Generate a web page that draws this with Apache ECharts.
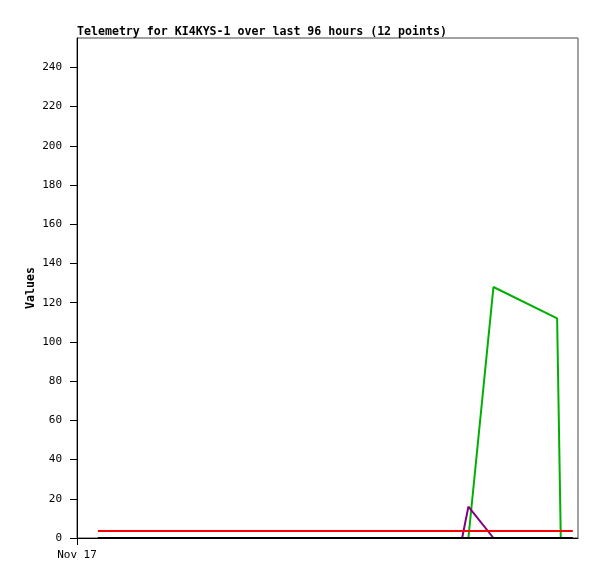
<!DOCTYPE html>
<html>
<head>
<meta charset="utf-8">
<script src="https://cdn.jsdelivr.net/npm/echarts@6/dist/echarts.min.js"></script>
<style>html,body{margin:0;padding:0;background:#fff;}#c{width:597px;height:579px;}</style>
</head>
<body>
<div id="c"></div>
<script>
const titleText = 'Telemetry for KI4KYS-1 over last 96 hours (12 points)';
const yName = 'Values';
const xTickLabel = 'Nov 17';
const yTicks = [0, 20, 40, 60, 80, 100, 120, 140, 160, 180, 200, 220, 240];
const hours = [4.0, 73.8, 75.0, 79.8, 92.0, 92.7, 95.0];
const greenVals  = [0, 0, 0, 128, 112, 0, 0];
const purpleVals = [0, 0, 16, 0, 0, 0, 0];
const redVals    = [3.6, 3.6, 3.6, 3.6, 3.6, 3.6, 3.6];
const blackVals  = [0, 0, 0, 0, 0, 0, 0];

const font = 'DejaVu Sans Mono';
function pairs(vals){ return hours.map((h,i)=>[h, vals[i]]); }
function line(name, vals, color){
  return {name, type:'line', data:pairs(vals), showSymbol:false, symbol:'none',
    lineStyle:{color, width:2}, itemStyle:{color}, animation:false};
}
const chart = echarts.init(document.getElementById('c'));
chart.setOption({
  animation:false,
  backgroundColor:'#fff',
  title:{text:titleText, left:77, top:26, padding:0,
    textStyle:{fontFamily:font, fontWeight:'bold', fontSize:11.6, color:'#000'}},
  grid:{left:77, top:38, right:19, bottom:41, show:true, borderColor:'#444', borderWidth:1, backgroundColor:'transparent'},
  xAxis:{type:'value', min:0, max:96,
    axisLine:{show:true, lineStyle:{color:'#000', width:1}},
    axisTick:{show:true, customValues:[0], length:7, lineStyle:{color:'#000'}},
    axisLabel:{customValues:[0], formatter:()=>xTickLabel, fontFamily:font, fontSize:11, color:'#000', margin:12},
    splitLine:{show:false}},
  yAxis:{type:'value', min:0, max:255,
    name:yName, nameLocation:'middle', nameGap:40, nameRotate:90, nameMoveOverlap:false,
    nameTextStyle:{fontFamily:font, fontWeight:'bold', fontSize:11.6, color:'#000'},
    axisLine:{show:true, lineStyle:{color:'#000', width:1}},
    axisTick:{show:true, customValues:yTicks, length:7, lineStyle:{color:'#000'}},
    axisLabel:{customValues:yTicks, fontFamily:font, fontSize:11, color:'#000', margin:15},
    splitLine:{show:false}},
  series:[
    line('green', greenVals, '#00b000'),
    line('purple', purpleVals, '#800080'),
    line('red', redVals, '#ff0000'),
    line('black', blackVals, '#000000')
  ]
});
</script>
</body>
</html>
